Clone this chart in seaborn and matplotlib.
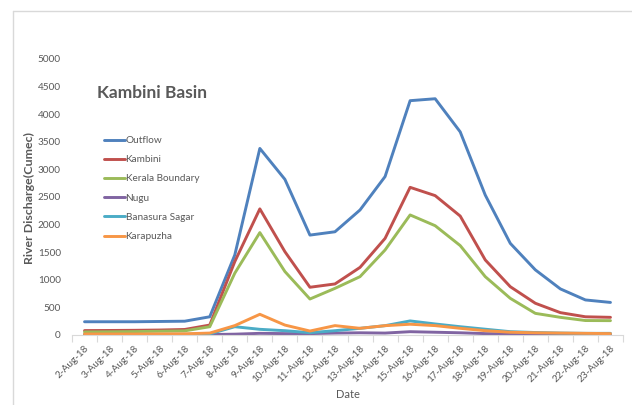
import matplotlib
matplotlib.use("Agg")
import matplotlib.pyplot as plt
from matplotlib.lines import Line2D
import seaborn as sns
import pandas as pd
import numpy as np

# Daily discharge in the Kambini basin, August 2018 (cumec)
dates = ["2-Aug-18", "3-Aug-18", "4-Aug-18", "5-Aug-18", "6-Aug-18", "7-Aug-18",
         "8-Aug-18", "9-Aug-18", "10-Aug-18", "11-Aug-18", "12-Aug-18", "13-Aug-18",
         "14-Aug-18", "15-Aug-18", "16-Aug-18", "17-Aug-18", "18-Aug-18", "19-Aug-18",
         "20-Aug-18", "21-Aug-18", "22-Aug-18", "23-Aug-18"]

outflow = [240, 240, 240, 245, 250, 330, 1450, 3380, 2820, 1810, 1870, 2265,
           2870, 4245, 4280, 3680, 2535, 1660, 1180, 835, 635, 590]
kambini = [80, 82, 85, 90, 100, 180, 1330, 2285, 1510, 865, 925, 1225,
           1750, 2675, 2525, 2155, 1360, 875, 575, 405, 330, 320]
kerala_boundary = [55, 58, 62, 68, 75, 150, 1120, 1855, 1150, 652, 845, 1057,
                   1540, 2175, 1980, 1620, 1057, 664, 392, 320, 262, 260]
nugu = [5, 5, 5, 5, 5, 8, 15, 30, 25, 25, 35, 40,
        35, 60, 50, 40, 25, 20, 15, 12, 10, 10]
banasura_sagar = [10, 10, 10, 10, 12, 20, 150, 103, 78, 42, 78, 121,
                  169, 255, 200, 150, 105, 60, 45, 35, 30, 30]
karapuzha = [18, 18, 18, 20, 22, 35, 170, 375, 180, 72, 170, 121,
             169, 195, 170, 121, 78, 50, 40, 35, 30, 25]

series_names = ["Outflow", "Kambini", "Kerala Boundary", "Nugu",
                "Banasura Sagar", "Karapuzha"]
series_values = [outflow, kambini, kerala_boundary, nugu, banasura_sagar, karapuzha]
colors = ["#4F81BD", "#C0504D", "#9BBB59", "#8064A2", "#4BACC6", "#F79646"]

frames = []
for name, vals in zip(series_names, series_values):
    frames.append(pd.DataFrame({"idx": np.arange(len(dates)), "Date": dates,
                                "value": vals, "series": name}))
df = pd.concat(frames, ignore_index=True)

sns.set_theme(style="white")
plt.rcParams["font.family"] = ["Lato", "DejaVu Sans"]

text_gray = "#595959"
axis_gray = "#D9D9D9"

fig = plt.figure(figsize=(6.32, 4.05), dpi=100)
ax = fig.add_axes([72 / 632, 1 - 335 / 405, (623 - 72) / 632, (335 - 59) / 405])

sns.lineplot(data=df, x="idx", y="value", hue="series", hue_order=series_names,
             palette=colors, linewidth=2.1, ax=ax, legend=False, sort=False)

ax.set_xlim(-0.5, len(dates) - 0.5)
ax.set_ylim(0, 5000)
ax.set_yticks(np.arange(0, 5001, 500))
ax.set_yticklabels([str(v) for v in range(0, 5001, 500)], fontsize=7.2, color=text_gray)
ax.set_xticks(np.arange(len(dates)))
ax.set_xticklabels(dates, rotation=45, ha="right", va="top", rotation_mode="anchor",
                   fontsize=7.2, color=text_gray)
ax.set_xticks(np.arange(-0.5, len(dates), 1.0), minor=True)
ax.tick_params(axis="x", which="major", length=0, pad=6)
ax.tick_params(axis="x", which="minor", length=5, color=axis_gray, width=0.8,
               direction="out", bottom=True)
ax.tick_params(axis="y", length=0, pad=8)

for side in ["top", "right", "left"]:
    ax.spines[side].set_visible(False)
ax.spines["bottom"].set_color(axis_gray)
ax.spines["bottom"].set_linewidth(0.8)
ax.grid(False)

ax.set_xlabel("Date", fontsize=8, color=text_gray, labelpad=4)
ax.set_ylabel("River Discharge(Cumec)", fontsize=8.9, fontweight="bold",
              color=text_gray)
ax.yaxis.set_label_coords(35 / 632, 1 - 198 / 405, transform=fig.transFigure)

ax.text(97 / 632, 1 - 93 / 405, "Kambini Basin", transform=fig.transFigure,
        fontsize=12.5, fontweight="bold", color=text_gray, ha="left", va="center")

handles = [Line2D([0], [0], color=c, lw=2.1) for c in colors]
leg = ax.legend(handles, series_names, loc="upper left",
                bbox_to_anchor=(99 / 632, 1 - 131 / 405), bbox_transform=fig.transFigure,
                frameon=False, fontsize=7.2, handlelength=2.1, handletextpad=0.05,
                labelspacing=1.02, borderpad=0)
for t in leg.get_texts():
    t.set_color(text_gray)

# Chart area frame (top and left edges visible)
fig.add_artist(Line2D([13 / 632, 1.0], [1 - 11 / 405, 1 - 11 / 405],
                      transform=fig.transFigure, color=axis_gray, lw=1.0))
fig.add_artist(Line2D([13 / 632, 13 / 632], [0, 1 - 11 / 405],
                      transform=fig.transFigure, color=axis_gray, lw=1.0))

fig.savefig("out.png", dpi=100)
